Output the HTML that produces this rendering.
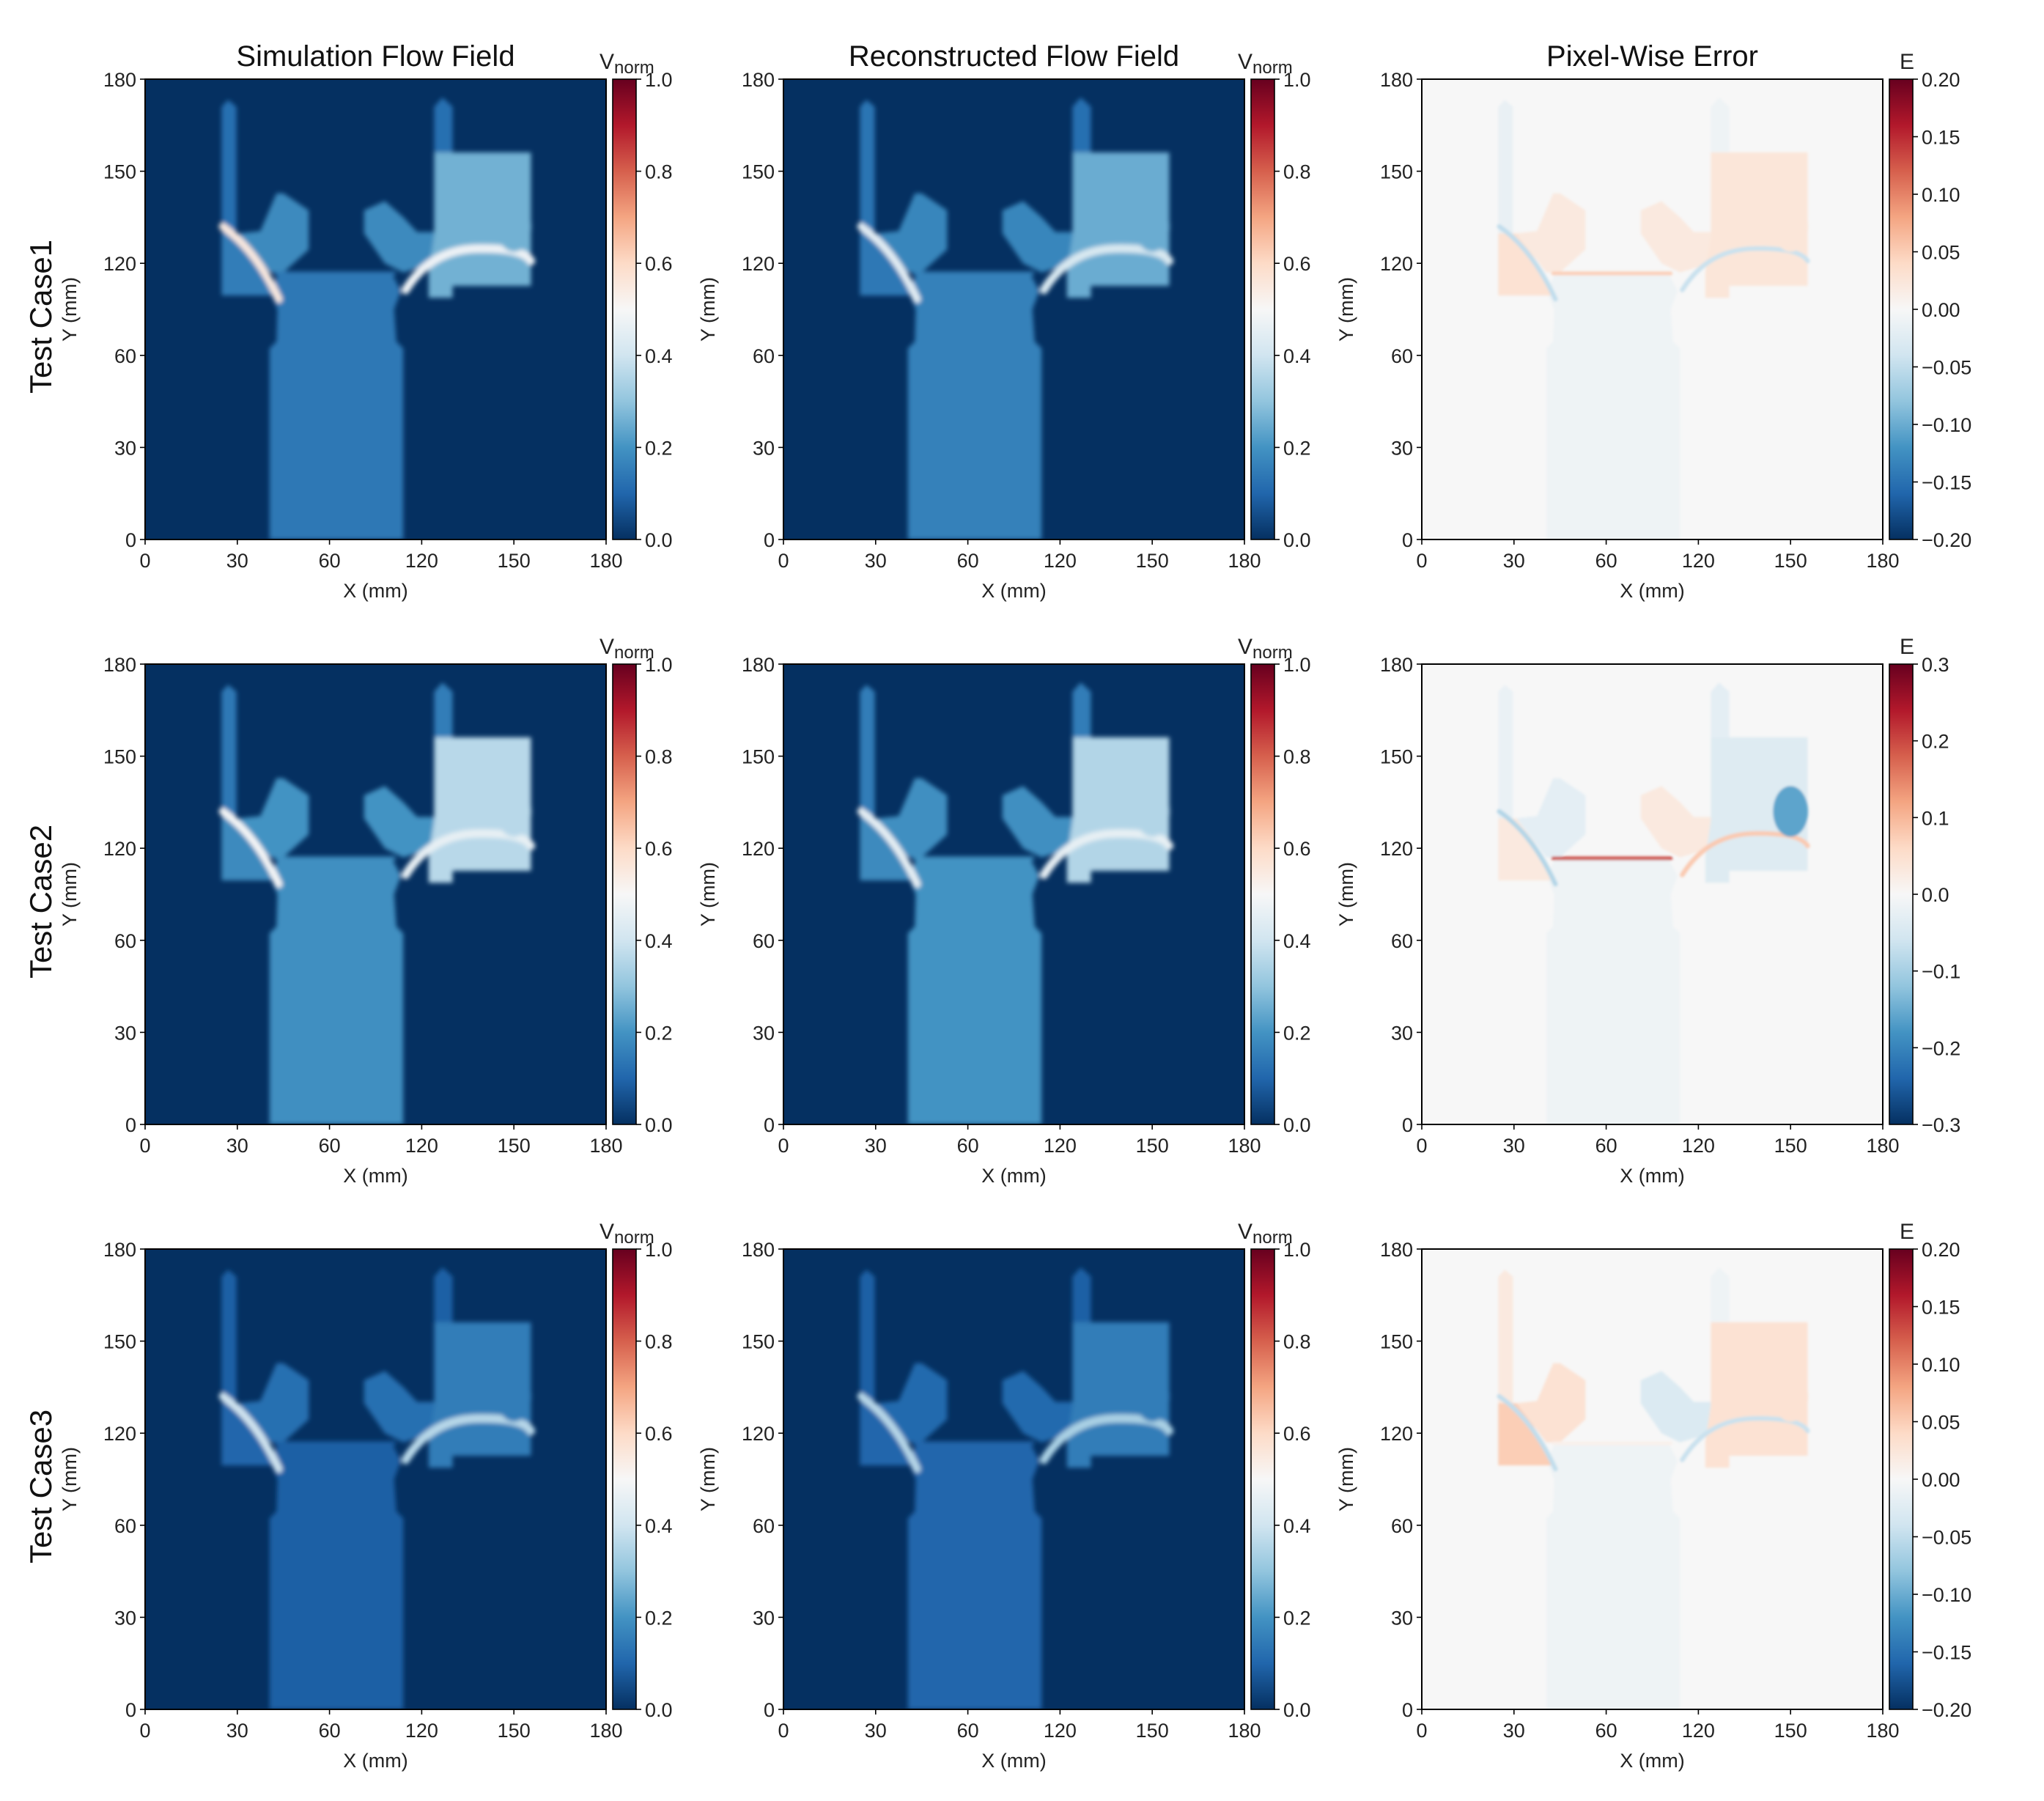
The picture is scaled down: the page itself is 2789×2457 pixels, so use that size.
<!DOCTYPE html>
<html><head><meta charset="utf-8">
<style>
html,body{margin:0;padding:0;background:#fff;}
svg{display:block;font-family:"Liberation Sans","DejaVu Sans",sans-serif;}
</style></head>
<body>
<svg id="fig" xmlns="http://www.w3.org/2000/svg" width="2789" height="2457" viewBox="0 0 2789 2457">
<defs>
<filter id="blur" x="-10%" y="-10%" width="120%" height="120%"><feGaussianBlur stdDeviation="5"/></filter>
<filter id="blur2" x="-10%" y="-10%" width="120%" height="120%"><feGaussianBlur stdDeviation="3"/></filter>
</defs>
</svg>
<script>
// ---- data ----
const colTitles = ["Simulation Flow Field","Reconstructed Flow Field","Pixel-Wise Error"];
const rowLabels = ["Test Case1","Test Case2","Test Case3"];
const axisTickLabels = ["0","30","60","120","150","180"];
const vTicks = [0.0,0.2,0.4,0.6,0.8,1.0];
const errLimits = [0.20,0.30,0.20];
const errTicks1 = [-0.20,-0.15,-0.10,-0.05,0.00,0.05,0.10,0.15,0.20];
const errTicks2 = [-0.3,-0.2,-0.1,0.0,0.1,0.2,0.3];
const errTicks3 = [-0.20,-0.15,-0.10,-0.05,0.00,0.05,0.10,0.15,0.20];
// regions: cylinder, leftChannel, leftLower, leftPocket, rightPocket, rightChannel, rightBox, leftJet, rightJet, throatEdge, boxVortex
const simCase1 = [0.14,0.12,0.15,0.18,0.18,0.12,0.26,0.55,0.48,0.14,0.26];
const simCase2 = [0.19,0.14,0.18,0.20,0.20,0.15,0.36,0.50,0.46,0.19,0.36];
const simCase3 = [0.09,0.09,0.10,0.12,0.12,0.09,0.15,0.40,0.36,0.09,0.15];
const recCase1 = [0.16,0.13,0.14,0.17,0.17,0.12,0.25,0.45,0.42,0.16,0.25];
const recCase2 = [0.20,0.15,0.18,0.19,0.19,0.15,0.35,0.46,0.46,0.20,0.35];
const recCase3 = [0.10,0.09,0.10,0.11,0.11,0.09,0.15,0.36,0.34,0.10,0.15];
const errCase1 = [-0.010,-0.015,0.030,0.020,0.020,-0.010,0.025,-0.050,-0.045,0.050,0.025];
const errCase2 = [-0.015,-0.020,0.030,-0.030,0.030,-0.030,-0.040,-0.090,0.080,0.200,-0.160];
const errCase3 = [-0.010,0.020,0.050,0.030,-0.030,-0.010,0.030,-0.050,-0.045,0.010,0.030];

// geometry (plot-fraction units 0..1000, y down)
const shapes = [
 {name:"cylinder",poly:[[270,1000],[270,585],[285,570],[287,500],[270,460],[290,422],[535,422],[555,460],[540,500],[545,570],[560,585],[560,1000]]},
 {name:"left-channel",poly:[[166,468],[166,60],[180,45],[198,60],[198,468]]},
 {name:"left-lower",poly:[[166,335],[215,335],[290,470],[166,470]]},
 {name:"left-pocket",poly:[[205,335],[250,330],[285,248],[300,248],[355,285],[355,370],[300,420],[270,420]]},
 {name:"right-pocket",poly:[[475,285],[520,265],[560,300],[590,332],[627,332],[627,400],[560,420],[520,400],[475,335]]},
 {name:"right-channel",poly:[[627,340],[627,60],[645,40],[667,60],[667,159],[627,159]]},
 {name:"right-box",poly:[[627,159],[837,159],[837,449],[667,449],[667,475],[615,475],[615,420],[627,340]]},
 {name:"left-jet",path:"M168,320 Q240,370 290,478",w:16},
 {name:"right-jet",path:"M565,458 Q620,370 720,368 T837,395",w:18},
 {name:"throat-edge",path:"M285,422 L540,422",w:8},
 {name:"box-vortex",ellipse:[800,320,38,55]}
];

const plotLeft=[198,1069,1940], plotTop=[108,906,1704], W=629, H=628;
const stops=["#053061","#2166ac","#4393c3","#92c5de","#d1e5f0","#f7f7f7","#fddbc7","#f4a582","#d6604d","#b2182b","#67001f"];
function hex(c){return [parseInt(c.slice(1,3),16),parseInt(c.slice(3,5),16),parseInt(c.slice(5,7),16)];}
function cmap(t){t=Math.max(0,Math.min(1,t));const p=t*10,i=Math.min(9,Math.floor(p)),f=p-i;
 const a=hex(stops[i]),b=hex(stops[i+1]);return "rgb("+a.map((v,k)=>Math.round(v+(b[k]-v)*f)).join(",")+")";}

const NS="http://www.w3.org/2000/svg";
const svg=document.getElementById("fig");
function mk(tag,attrs,parent){const e=document.createElementNS(NS,tag);for(const k in attrs)e.setAttribute(k,attrs[k]);(parent||svg).appendChild(e);return e;}
function txt(s,attrs,parent){const e=mk("text",attrs,parent);e.textContent=s;return e;}
function fmt(v,d){const s=Math.abs(v).toFixed(d);return (v<0?"\u2212":"")+s;}

const simVals=[simCase1,simCase2,simCase3], recVals=[recCase1,recCase2,recCase3], errVals=[errCase1,errCase2,errCase3];
const errTickSets=[errTicks1,errTicks2,errTicks3];

for(let r=0;r<3;r++){
 for(let c=0;c<3;c++){
  const L=plotLeft[c],T=plotTop[r];
  const g=mk("g",{});
  
  
  const isErr=(c===2);
  const vals = c===0?simVals[r]:c===1?recVals[r]:errVals[r];
  const lim=errLimits[r];
  const toT = v => isErr ? (v+lim)/(2*lim) : v;
  const clipId="clip"+r+c;
  const cp=mk("clipPath",{id:clipId},g);
  mk("rect",{x:L,y:T,width:W,height:H},cp);
  const bg=mk("rect",{x:L,y:T,width:W,height:H,fill:cmap(toT(0))},g);
  
  
  const hg=mk("g",{"clip-path":"url(#"+clipId+")"},g);
  const inner=mk("g",{transform:"translate("+L+","+T+") scale("+(W/1000)+","+(H/1000)+")",filter:isErr?"url(#blur2)":"url(#blur)"},hg);
  shapes.forEach((s,i)=>{
   const col=cmap(toT(vals[i]));
   let e;
   if(s.poly) e=mk("polygon",{points:s.poly.map(p=>p.join(",")).join(" "),fill:col},inner);
   else if(s.path) e=mk("path",{d:s.path,fill:"none",stroke:col,"stroke-width":isErr?Math.min(s.w,10):s.w,"stroke-linecap":"round"},inner);
   else e=mk("ellipse",{cx:s.ellipse[0],cy:s.ellipse[1],rx:s.ellipse[2],ry:s.ellipse[3],fill:col},inner);
   
   
  });
  const fr=mk("rect",{x:L,y:T,width:W,height:H,fill:"none",stroke:"#000","stroke-width":2},g);
  
  
  axisTickLabels.forEach((lab,k)=>{
   const x=L+k*W/5, y=T+H-k*H/5;
   mk("line",{x1:x,y1:T+H,x2:x,y2:T+H+7,stroke:"#000","stroke-width":1.6},g);
   const xt=txt(lab,{x:x,y:T+H+38,"font-size":27,"text-anchor":"middle",fill:"#222"},g);
   
   
   mk("line",{x1:L-7,y1:y,x2:L,y2:y,stroke:"#000","stroke-width":1.6},g);
   const yt=txt(lab,{x:L-12,y:y+10,"font-size":27,"text-anchor":"end",fill:"#222"},g);
   
   
  });
  const xl=txt("X (mm)",{x:L+W/2,y:T+H+79,"font-size":27,"text-anchor":"middle",fill:"#222"},g);
  
  
  const yx=L-94,yy=T+H/2;
  const yl=txt("Y (mm)",{x:yx,y:yy,"font-size":27,"text-anchor":"middle",fill:"#222",transform:"rotate(-90 "+yx+" "+yy+")"},g);
  
  
  const cbx=L+638,cbw=32;
  const gid="cbg"+r+c;
  const lg=mk("linearGradient",{id:gid,x1:0,y1:1,x2:0,y2:0},g);
  stops.forEach((s,k)=>mk("stop",{offset:(k/10),"stop-color":s},lg));
  const cb=mk("rect",{x:cbx,y:T,width:cbw,height:H,fill:"url(#"+gid+")",stroke:"#000","stroke-width":1.6},g);
  
  
  const ticks=isErr?errTickSets[r]:vTicks;
  const dec=isErr?(r===1?1:2):1;
  ticks.forEach(v=>{
   const y=T+H-(toT(v))*H;
   mk("line",{x1:cbx+cbw,y1:y,x2:cbx+cbw+7,y2:y,stroke:"#000","stroke-width":1.6},g);
   const ct=txt(fmt(v,dec),{x:cbx+cbw+12,y:y+10,"font-size":27,fill:"#222"},g);
   
   
  });
  let cbt;
  if(isErr){cbt=txt("E",{x:cbx+cbw/2+8,y:T-14,"font-size":30,"text-anchor":"middle",fill:"#222"},g);}
  else{cbt=txt("V",{x:cbx-18,y:T-14,"font-size":30,fill:"#222"},g);
   const sub=mk("tspan",{"font-size":24,dy:6},cbt);sub.textContent="norm";}
  
  
  if(r===0){
   const t=txt(colTitles[c],{x:L+W/2,y:T-18,"font-size":40,"text-anchor":"middle",fill:"#111"},g);
   
   
  }
  if(c===0){
   const rx=70,ry=T+H/2+10;
   const rl=txt(rowLabels[r],{x:rx,y:ry,"font-size":42,"text-anchor":"middle",fill:"#111",transform:"rotate(-90 "+rx+" "+ry+")"},g);
   
   
  }
 }
}
</script>
</body></html>
